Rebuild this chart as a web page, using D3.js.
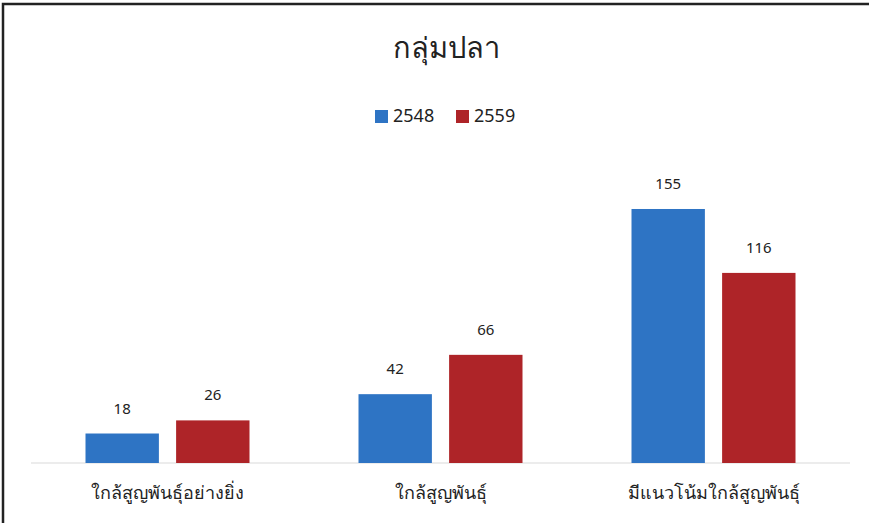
<!DOCTYPE html>
<html lang="th">
<head>
<meta charset="UTF-8">
<title>กลุ่มปลา</title>
<script src="https://cdn.jsdelivr.net/npm/d3@7"></script>
<style>
  html, body { margin: 0; padding: 0; background: #fff; }
  svg { display: block; font-family: "Noto Sans", "DejaVu Sans", sans-serif; }
</style>
</head>
<body>
<svg width="869" height="523"></svg>
<script>
    // data
    var categories = ["ใกล้สูญพันธุ์อย่างยิ่ง", "ใกล้สูญพันธุ์", "มีแนวโน้มใกล้สูญพันธุ์"];
    var years = ["2548", "2559"];
    var values2548 = [18, 42, 155];
    var values2559 = [26, 66, 116];
    var colors = ["#2e74c4", "#ae2428"];

    var svg = d3.select("svg");
    var baseline = 463;

    // frame (left and top edge)
    svg.append("rect").attr("x", 3).attr("y", 4).attr("width", 870).attr("height", 530)
        .attr("fill", "none").attr("stroke", "#222").attr("stroke-width", 2.5);

    var rows = categories.map(function (c, i) {
        return {cat: c, vals: [values2548[i], values2559[i]]};
    });

    var x0 = d3.scaleBand().domain(categories).range([31, 850]).paddingInner(0).paddingOuter(0);
    var x1 = d3.scaleBand().domain(years).range([x0.bandwidth() / 2 - 82, x0.bandwidth() / 2 + 82]).paddingInner(0.19);
    var y = d3.scaleLinear().domain([0, 160]).range([baseline, baseline - 262.2]);

    // baseline
    svg.append("line").attr("x1", 31).attr("x2", 850).attr("y1", baseline).attr("y2", baseline)
        .attr("stroke", "#d9d9d9").attr("stroke-width", 1);

    var groups = svg.append("g").selectAll("g")
        .data(rows)
        .enter().append("g")
        .attr("transform", function (d) { return "translate(" + x0(d.cat) + ",0)"; });

    var bars = groups.selectAll("g")
        .data(function (d) {
            return years.map(function (yr, k) { return {year: yr, value: d.vals[k], k: k}; });
        })
        .enter().append("g");

    bars.append("rect")
        .attr("x", function (d) { return x1(d.year); })
        .attr("y", function (d) { return y(d.value); })
        .attr("width", x1.bandwidth())
        .attr("height", function (d) { return baseline - y(d.value); })
        .attr("fill", function (d) { return colors[d.k]; });

    bars.append("text")
        .attr("x", function (d) { return x1(d.year) + x1.bandwidth() / 2; })
        .attr("y", function (d) { return y(d.value) - 20; })
        .attr("text-anchor", "middle")
        .attr("font-size", 15)
        .attr("fill", "#222")
        .text(function (d) { return d.value; });

    // category labels
    svg.append("g").selectAll("text")
        .data(categories)
        .enter().append("text")
        .attr("x", function (d) { return x0(d) + x0.bandwidth() / 2; })
        .attr("y", 499)
        .attr("text-anchor", "middle")
        .attr("font-size", 18)
        .attr("fill", "#222")
        .text(function (d) { return d; });

    // title
    svg.append("text")
        .attr("x", 446).attr("y", 58)
        .attr("text-anchor", "middle")
        .attr("font-size", 29)
        .attr("fill", "#222")
        .text("กลุ่มปลา");

    // legend
    var legend = svg.append("g").selectAll("g")
        .data(years)
        .enter().append("g")
        .attr("transform", function (d, i) { return "translate(" + (375 + i * 81) + ",110)"; });
    legend.append("rect").attr("width", 13).attr("height", 13)
        .attr("fill", function (d, i) { return colors[i]; });
    legend.append("text").attr("x", 18).attr("y", 12)
        .attr("font-size", 18).attr("fill", "#222")
        .text(function (d) { return d; });
</script>
</body>
</html>
